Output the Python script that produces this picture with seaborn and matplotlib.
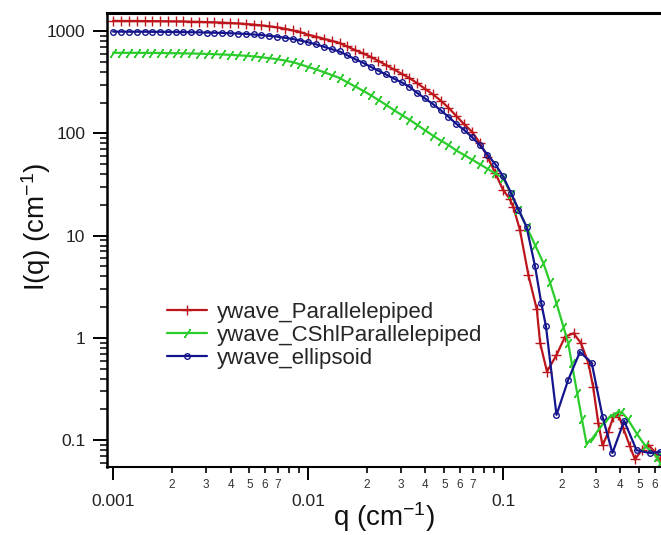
import numpy as np
import seaborn as sns
import matplotlib.pyplot as plt
from matplotlib.ticker import FixedLocator, LogLocator, FuncFormatter, NullFormatter

# shared log-spaced q grid (cm^-1) up to 0.1
q_grid = [0.00100, 0.00110, 0.00120, 0.00132, 0.00145, 0.00158, 0.00174, 0.00191, 0.00209, 0.00229,
          0.00251, 0.00275, 0.00302, 0.00331, 0.00363, 0.00398, 0.00437, 0.00479, 0.00525, 0.00575,
          0.00631, 0.00692, 0.00759, 0.00832, 0.00912, 0.0100, 0.0110, 0.0120, 0.0132, 0.0145,
          0.0158, 0.0174, 0.0191, 0.0209, 0.0229, 0.0251, 0.0275, 0.0302, 0.0331, 0.0363,
          0.0398, 0.0437, 0.0479, 0.0525, 0.0575, 0.0631, 0.0692, 0.0759, 0.0832, 0.0912, 0.100]

# I(q) on the shared grid
par_low = [1256, 1253, 1253, 1253, 1250, 1250, 1247, 1245, 1242, 1239,
           1233, 1230, 1222, 1216, 1208, 1197, 1186, 1172, 1156, 1135,
           1112, 1086, 1054, 1014, 976, 920, 881, 841, 802, 764,
           708, 653, 605, 560, 511, 465, 422, 382, 347, 309,
           272, 240, 209, 178, 148, 123, 104, 81, 59, 41, 28]
csh_low = [614, 612, 612, 612, 611, 611, 610, 608, 607, 605,
           603, 601, 597, 594, 590, 585, 579, 573, 565, 555,
           543, 531, 515, 497, 472, 446, 421, 397, 372, 348,
           317, 288, 261, 237, 212, 190, 169, 151, 136, 121,
           107, 95, 85, 77, 68, 61.5, 55.5, 50, 45, 40.6, 36.6]
ell_low = [986, 986, 984, 984, 984, 982, 982, 980, 977, 975,
           973, 971, 966, 962, 957, 951, 944, 935, 925, 912,
           897, 881, 859, 836, 807, 776, 741, 703, 665, 631,
           582, 531, 490, 448, 410, 376, 343, 315, 285, 248,
           219, 193, 168, 145, 124, 108, 92, 77, 62, 50, 38]

# high-q tails (oscillating part), own q points per model
par_tail_q = [0.108, 0.113, 0.122, 0.135, 0.149, 0.155, 0.168, 0.188, 0.208, 0.230, 0.251, 0.274, 0.290,
              0.308, 0.324, 0.347, 0.368, 0.391, 0.414, 0.448, 0.475, 0.514, 0.556, 0.601, 0.638]
par_tail_I = [23, 19, 11.4, 4.1, 1.9, 0.89, 0.47, 0.68, 1.03, 1.11, 0.89, 0.57, 0.33,
              0.147, 0.089, 0.121, 0.17, 0.177, 0.131, 0.087, 0.065, 0.080, 0.09, 0.077, 0.064]
csh_tail_q = [0.110, 0.120, 0.132, 0.146, 0.161, 0.174, 0.188, 0.204, 0.216, 0.225, 0.240, 0.254,
              0.268, 0.288, 0.316, 0.347, 0.380, 0.405, 0.437, 0.484, 0.537, 0.614, 0.638]
csh_tail_I = [25.6, 17.9, 12.2, 8.1, 5.4, 3.5, 2.18, 1.29, 0.89, 0.57, 0.29, 0.16,
              0.093, 0.105, 0.135, 0.165, 0.185, 0.19, 0.16, 0.117, 0.088, 0.069, 0.060]
ell_tail_q = [0.110, 0.120, 0.132, 0.146, 0.157, 0.166, 0.188, 0.216, 0.248, 0.285, 0.324, 0.364,
              0.418, 0.484, 0.568, 0.638]
ell_tail_I = [26, 18, 12.2, 5.0, 2.2, 1.3, 0.177, 0.39, 0.73, 0.57, 0.17, 0.075,
              0.155, 0.08, 0.075, 0.077]

names = ["ywave_Parallelepiped", "ywave_CShlParallelepiped", "ywave_ellipsoid"]

x_major = [0.001, 0.01, 0.1]
x_major_labels = ["0.001", "0.01", "0.1"]
y_major = [0.1, 1, 10, 100, 1000]
y_major_labels = ["0.1", "1", "10", "100", "1000"]

sns.set_style("ticks")
plt.rcParams["font.family"] = ["Liberation Sans", "DejaVu Sans"]
plt.rcParams["mathtext.fontset"] = "custom"
plt.rcParams["mathtext.rm"] = "Liberation Sans"
plt.rcParams["mathtext.it"] = "Liberation Sans:italic"
plt.rcParams["mathtext.default"] = "regular"

fig = plt.figure(figsize=(6.61, 5.35), dpi=100)
ax = fig.add_axes([107 / 661, 1 - 467 / 535, 554 / 661, 454 / 535])
ax.set_xscale("log")
ax.set_yscale("log")

# colour, marker, marker size, marker face
styles = [("#bc161c", "+", 6.5, "#bc161c"),
          ("#2ccc2c", (2, 2, -35), 7.5, "#2ccc2c"),
          ("#14148c", "o", 4, "none")]
data = [(q_grid + par_tail_q, par_low + par_tail_I),
        (q_grid + csh_tail_q, csh_low + csh_tail_I),
        (q_grid + ell_tail_q, ell_low + ell_tail_I)]

for name, (q, iq), (col, mk, ms, mfc) in zip(names, data, styles):
    sns.lineplot(x=q, y=iq, ax=ax, color=col, lw=1.6, marker=mk, ms=ms,
                 mec=col, mfc=mfc, mew=1.0, label=name, estimator=None, sort=False)

ax.set_xlim(0.00093, 0.646)
ax.set_ylim(0.0548, 1500)

# x axis: labelled decades plus small digit labels on minor ticks (Igor style)
ax.xaxis.set_major_locator(FixedLocator(x_major))
ax.xaxis.set_major_formatter(FuncFormatter(lambda v, p: x_major_labels[x_major.index(v)] if v in x_major else ""))
ax.xaxis.set_minor_locator(LogLocator(base=10, subs=np.arange(2, 10), numticks=20))


def minor_digit(v, pos):
    d = int(round(v / 10 ** np.floor(np.log10(v) + 1e-9)))
    return str(d) if d <= 7 else ""


ax.xaxis.set_minor_formatter(FuncFormatter(minor_digit))

ax.yaxis.set_major_locator(FixedLocator(y_major))
ax.yaxis.set_major_formatter(FuncFormatter(lambda v, p: y_major_labels[y_major.index(v)] if v in y_major else ""))
ax.yaxis.set_minor_locator(LogLocator(base=10, subs=np.arange(2, 10), numticks=20))
ax.yaxis.set_minor_formatter(NullFormatter())

ax.tick_params(axis="x", which="major", length=9, width=1.4, pad=10.5, labelsize=12.5,
               color="black", labelcolor="#222222")
ax.tick_params(axis="x", which="minor", length=4, width=1.2, pad=4.5, labelsize=8.5,
               color="black", labelcolor="#333333")
ax.tick_params(axis="y", which="major", length=10, width=1.4, pad=5.5, labelsize=12.5,
               color="black", labelcolor="#222222")
ax.tick_params(axis="y", which="minor", length=5, width=1.1, color="black")

ax.spines["right"].set_visible(False)
for side, lw in [("top", 2.2), ("left", 1.8), ("bottom", 1.5)]:
    ax.spines[side].set_linewidth(lw)
    ax.spines[side].set_color("black")

ax.set_xlabel("q (cm$^{-1}$)", fontsize=20, color="#111111")
ax.xaxis.set_label_coords(0.5, -0.11)
ax.xaxis.label.set_va("center")
ax.set_ylabel("I(q) (cm$^{-1}$)", fontsize=20, color="#111111")
ax.yaxis.set_label_coords(-0.128, 0.529)
ax.yaxis.label.set_va("center")

ax.legend(loc="upper left", bbox_to_anchor=(0.108, 0.3645), frameon=False, fontsize=16,
          handlelength=1.8, handletextpad=0.45, labelspacing=0.1, borderpad=0, borderaxespad=0)

fig.savefig("out.png", dpi=100)
